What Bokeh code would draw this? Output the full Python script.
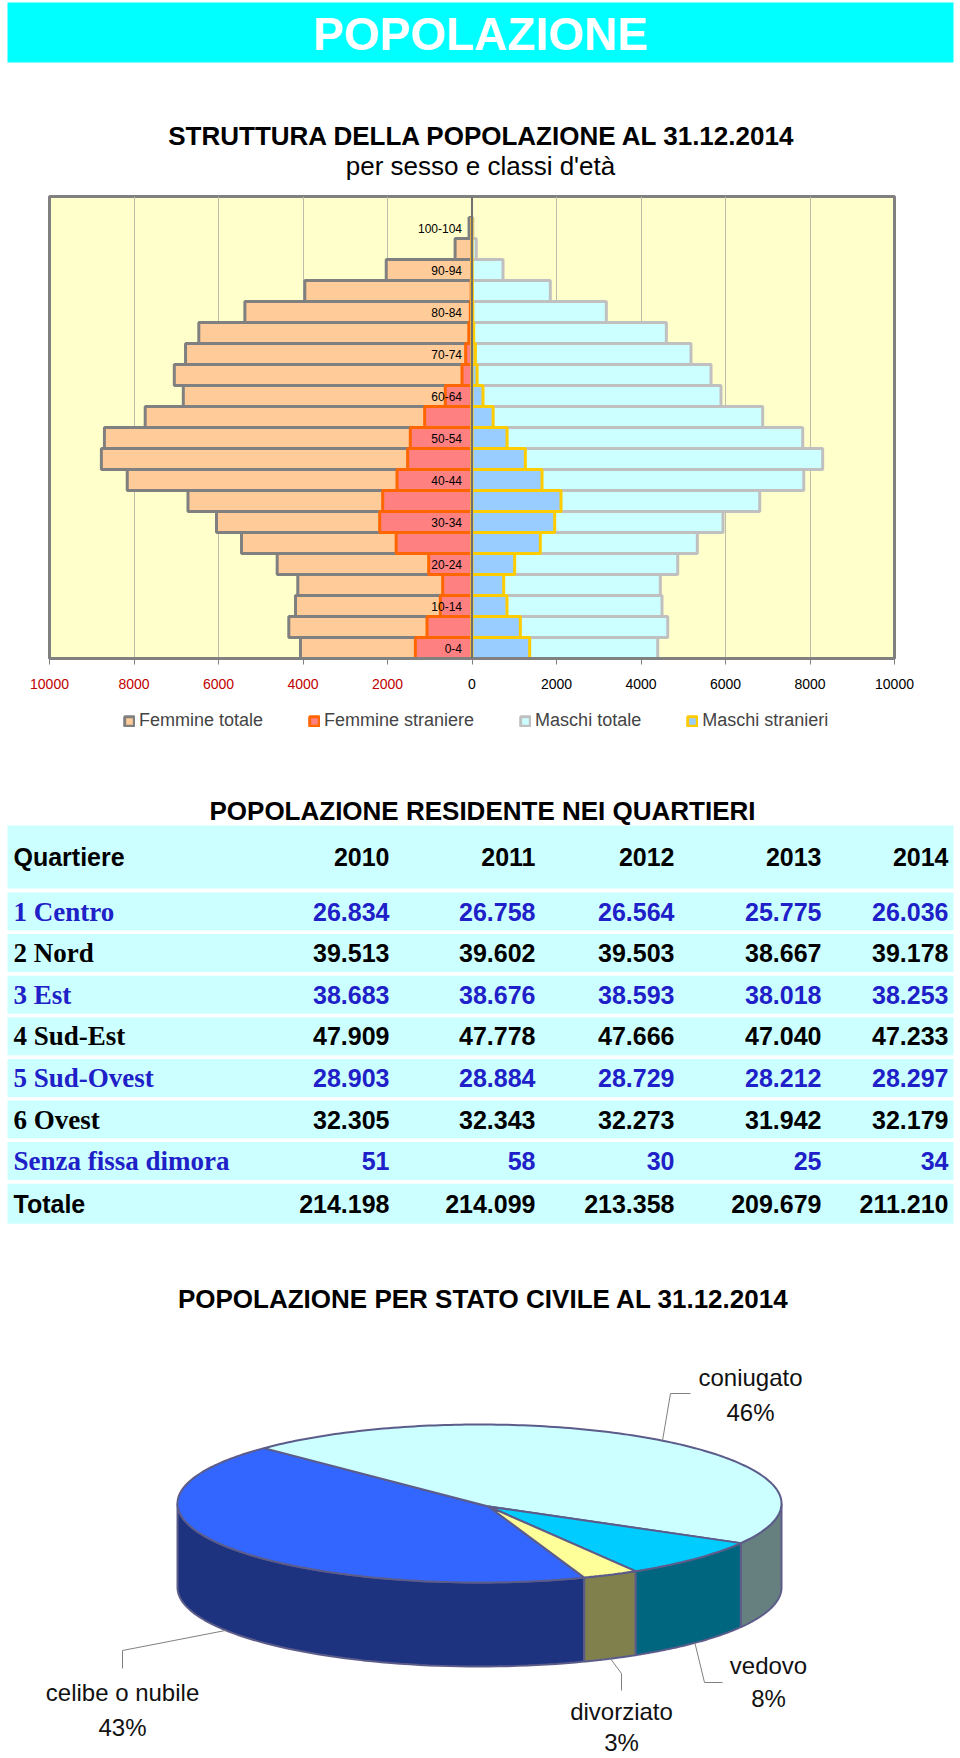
import numpy as np
from bokeh.plotting import figure
from bokeh.models import (ColumnDataSource, Range1d, FixedTicker, CustomJSTickFormatter,
                          Legend, LegendItem, Span)
from bokeh.layouts import column
from bokeh.embed import file_html
from bokeh.resources import INLINE
from bokeh.core.properties import value

SANS = "Liberation Sans"
SERIF = "Liberation Serif"

# ------------------------------------------------------------------ data
page_title = "POPOLAZIONE"
pyr_title = "STRUTTURA DELLA POPOLAZIONE AL 31.12.2014"
pyr_subtitle = "per sesso e classi d'età"

age_groups = ["0-4", "5-9", "10-14", "15-19", "20-24", "25-29", "30-34", "35-39",
              "40-44", "45-49", "50-54", "55-59", "60-64", "65-69", "70-74", "75-79",
              "80-84", "85-89", "90-94", "95-99", "100-104"]
femmine_totale = [4059, 4336, 4178, 4123, 4611, 5455, 6047, 6722, 8160, 8772, 8700,
                  7735, 6833, 7046, 6780, 6466, 5376, 3957, 2030, 400, 70]
femmine_straniere = [1341, 1065, 750, 694, 1025, 1795, 2185, 2114, 1775, 1523, 1460,
                     1120, 632, 237, 150, 75, 40, 20, 10, 5, 0]
maschi_totale = [4396, 4633, 4497, 4457, 4869, 5333, 5941, 6810, 7852, 8300, 7828,
                 6880, 5893, 5657, 5183, 4600, 3179, 1853, 734, 100, 20]
maschi_stranieri = [1365, 1144, 828, 750, 1010, 1617, 1957, 2107, 1657, 1262, 830,
                    500, 260, 120, 80, 40, 20, 10, 5, 0, 0]
series_names = ["Femmine totale", "Femmine straniere", "Maschi totale", "Maschi stranieri"]
x_ticks = [-10000, -8000, -6000, -4000, -2000, 0, 2000, 4000, 6000, 8000, 10000]
x_tick_labels = ["10000", "8000", "6000", "4000", "2000", "0", "2000", "4000", "6000",
                 "8000", "10000"]

table_title = "POPOLAZIONE RESIDENTE NEI QUARTIERI"
table_header = ["Quartiere", "2010", "2011", "2012", "2013", "2014"]
quartieri = ["1 Centro", "2 Nord", "3 Est", "4 Sud-Est", "5 Sud-Ovest", "6 Ovest",
             "Senza fissa dimora", "Totale"]
pop_2010 = [26834, 39513, 38683, 47909, 28903, 32305, 51, 214198]
pop_2011 = [26758, 39602, 38676, 47778, 28884, 32343, 58, 214099]
pop_2012 = [26564, 39503, 38593, 47666, 28729, 32273, 30, 213358]
pop_2013 = [25775, 38667, 38018, 47040, 28212, 31942, 25, 209679]
pop_2014 = [26036, 39178, 38253, 47233, 28297, 32179, 34, 211210]

pie_title = "POPOLAZIONE PER STATO CIVILE AL 31.12.2014"
stato_civile = ["celibe o nubile", "coniugato", "vedovo", "divorziato"]
stato_pct = [43, 46, 8, 3]

# series styles
fills = ["#FFCC99", "#FF8080", "#CCFFFF", "#99CCFF"]
lines = ["#808080", "#FF6600", "#C0C0C0", "#FFCC00"]


def page_fig(height, y0, y1):
    f = figure(width=960, height=height, x_range=Range1d(0, 960), y_range=Range1d(y1, y0),
               output_backend="svg", toolbar_location=None, min_border=0,
               x_axis_location=None, y_axis_location=None, outline_line_color=None,
               frame_align=False)
    f.grid.visible = False
    return f


# ------------------------------------------------------------------ header (page y 0..193)
h = page_fig(193, 0, 193)
h.quad(left=[7], right=[953], top=[2], bottom=[62], fill_color="#00FFFF", line_color=None)
h.text(x=[480], y=[33], text=[page_title], text_color="white", text_font=value(SANS),
       text_font_style="bold", text_font_size="46px", text_align="center",
       text_baseline="middle")
h.text(x=[482], y=[135], text=[pyr_title], text_color="black", text_font=value(SANS),
       text_font_style="bold", text_font_size="26px", text_align="center",
       text_baseline="middle")
h.text(x=[480], y=[165], text=[pyr_subtitle], text_color="black", text_font=value(SANS),
       text_font_size="26px", text_align="center", text_baseline="middle")

# ------------------------------------------------------------------ pyramid (193..666)
idx = list(range(len(age_groups)))
src = ColumnDataSource(dict(
    y=idx,
    ft=[-v for v in femmine_totale], fs=[-v for v in femmine_straniere],
    mt=maschi_totale, ms=maschi_stranieri,
))
XMIN, XMAX = -10000, 10000
FR_L, FR_R = 49, 66  # frame borders (px)

p = figure(width=960, height=473, x_range=Range1d(XMIN, XMAX),
           y_range=Range1d(-0.5, 21.5), output_backend="svg", toolbar_location=None,
           y_axis_location=None, min_border_left=FR_L, min_border_right=FR_R,
           min_border_top=3, min_border_bottom=8, frame_align=False)
p.background_fill_color = "#FFFFCC"
p.border_fill_color = "white"
p.outline_line_color = "#808080"
p.outline_line_width = 3
p.ygrid.visible = False
p.xgrid.ticker = FixedTicker(ticks=x_ticks)
p.xgrid.grid_line_color = "#BDBDAA"
p.xgrid.grid_line_width = 1


def add_bars(fig, visible=True):
    rs = []
    for col, fc, lc in zip(["ft", "fs"], fills[:2], lines[:2]):
        rs.append(fig.hbar(y="y", left=col, right=0, height=1, source=src, fill_color=fc,
                           line_color=lc, line_width=3, visible=visible))
    for col, fc, lc in zip(["mt", "ms"], fills[2:], lines[2:]):
        rs.append(fig.hbar(y="y", left=0, right=col, height=1, source=src, fill_color=fc,
                           line_color=lc, line_width=3, visible=visible))
    return rs


add_bars(p)
p.add_layout(Span(location=0, dimension="height", line_color="#707070", line_width=2))

lab_idx = [i for i in idx if i % 2 == 0]
p.text(x=[0] * len(lab_idx), y=lab_idx, text=[age_groups[i] for i in lab_idx],
       x_offset=-10, text_align="right", text_baseline="middle",
       text_font=value(SANS), text_font_size="12px", text_color="black")

xa = p.xaxis[0]
xa.ticker = FixedTicker(ticks=x_ticks)
xa.formatter = CustomJSTickFormatter(code="return '';")
xa.axis_line_color = "#808080"
xa.axis_line_width = 3
xa.major_tick_line_color = "#808080"
xa.major_tick_out = 6
xa.major_tick_in = 0
xa.minor_tick_line_color = None
xa.major_label_standoff = 0
xa.major_label_text_font_size = "1px"

# ------------------------------------------------------------------ tick labels + legend (666..760)
# same horizontal scale as the pyramid frame, but a frame that spans the whole width
ppx = (XMAX - XMIN) / (960 - FR_L - FR_R)
lf = figure(width=960, height=94, x_range=Range1d(XMIN - FR_L * ppx, XMAX + FR_R * ppx),
            y_range=Range1d(760, 666), output_backend="svg", toolbar_location=None,
            min_border=0, x_axis_location=None, y_axis_location=None,
            outline_line_color=None, frame_align=False)
lf.grid.visible = False
tick_colors = ["#C00000" if v < 0 else "black" for v in x_ticks]
lf.text(x=x_ticks, y=[683] * len(x_ticks), text=x_tick_labels, text_color=tick_colors,
        text_font=value(SANS), text_font_size="14px", text_align="center",
        text_baseline="middle")

proxies = add_bars(lf, visible=False)
legend = Legend(items=[LegendItem(label=n, renderers=[r]) for n, r in zip(series_names, proxies)],
                orientation="horizontal", location=(123, 29),
                label_text_font=SANS, label_text_font_size="18px",
                glyph_width=12, glyph_height=12, label_standoff=4, spacing=45,
                border_line_color=None, background_fill_alpha=0,
                margin=0, padding=0)
lf.add_layout(legend)

# ------------------------------------------------------------------ table (760..1240)
t = page_fig(480, 760, 1240)
t.text(x=[482], y=[810], text=[table_title], text_font=value(SANS),
       text_font_style="bold", text_font_size="26px", text_align="center",
       text_baseline="middle", text_color="black")

TBL_L, TBL_R = 7, 953
HEAD_TOP, HEAD_BOT = 825, 888
ROW0, PITCH, ROWH = 892, 41.6, 38
col_right = [389, 535, 674, 821, 948]

t.quad(left=[TBL_L], right=[TBL_R], top=[HEAD_TOP], bottom=[HEAD_BOT],
       fill_color="#CCFFFF", line_color=None)
nrows = len(quartieri)
row_top = [ROW0 + PITCH * i for i in range(nrows)]
row_bot = [rt + ROWH + (2 if i == nrows - 1 else 0) for i, rt in enumerate(row_top)]
row_mid = [(a + b) / 2 for a, b in zip(row_top, row_bot)]
t.quad(left=[TBL_L] * nrows, right=[TBL_R] * nrows, top=row_top, bottom=row_bot,
       fill_color="#CCFFFF", line_color=None)

head_mid = (HEAD_TOP + HEAD_BOT) / 2
t.text(x=[13], y=[head_mid], text=[table_header[0]], text_font=value(SANS),
       text_font_style="bold", text_font_size="25px", text_align="left",
       text_baseline="middle", text_color="black")
t.text(x=col_right, y=[head_mid] * 5, text=table_header[1:], text_font=value(SANS),
       text_font_style="bold", text_font_size="25px", text_align="right",
       text_baseline="middle", text_color="black")

BLUE = "#2020C8"
row_colors = [BLUE if i % 2 == 0 else "black" for i in range(nrows)]
row_colors[-1] = "black"
t.text(x=[13] * (nrows - 1), y=row_mid[:-1], text=quartieri[:-1],
       text_font=value(SERIF), text_font_style="bold", text_font_size="27px",
       text_align="left", text_baseline="middle", text_color=row_colors[:-1])
t.text(x=[13], y=[row_mid[-1]], text=[quartieri[-1]], text_font=value(SANS),
       text_font_style="bold", text_font_size="25px", text_align="left",
       text_baseline="middle", text_color="black")


def fmt(v):
    return f"{v:,}".replace(",", ".")


for ci, col in enumerate([pop_2010, pop_2011, pop_2012, pop_2013, pop_2014]):
    t.text(x=[col_right[ci]] * nrows, y=row_mid, text=[fmt(v) for v in col],
           text_font=value(SANS), text_font_style="bold", text_font_size="25px",
           text_align="right", text_baseline="middle", text_color=row_colors)

# ------------------------------------------------------------------ pie (1240..1758)
q = page_fig(518, 1240, 1758)
q.text(x=[483], y=[1298], text=[pie_title], text_font=value(SANS),
       text_font_style="bold", text_font_size="26px", text_align="center",
       text_baseline="middle", text_color="black")

cx, cy, rx, ry, depth = 479, 1503, 302, 79, 84
hub_dx, hub_dy = 9, 3  # perspective shift of the pie hub
start_deg = -69.7
top_colors = {"celibe o nubile": "#3366FF", "coniugato": "#CCFFFF",
              "vedovo": "#00CCFF", "divorziato": "#FFFF99"}
side_colors = {"celibe o nubile": "#1E337F", "coniugato": "#668080",
               "vedovo": "#006680", "divorziato": "#80804D"}
OUT = "#5C5C8A"

total = float(sum(stato_pct))
angles = []
a = start_deg
for v in stato_pct:
    span = v / total * 360.0
    angles.append((a - span, a))  # clockwise: from a down to a-span
    a -= span

side_xs, side_ys, side_c = [], [], []
for name, (lo, hi) in zip(stato_civile, angles):
    for f_lo, f_hi in [(-180, 0), (180, 360), (-540, -360)]:
        s_lo, s_hi = max(lo, f_lo), min(hi, f_hi)
        if s_hi > s_lo:
            ts = np.radians(np.linspace(s_lo, s_hi, 60))
            xt = cx + rx * np.cos(ts)
            yt = cy - ry * np.sin(ts)
            side_xs.append(list(xt) + list(xt[::-1]))
            side_ys.append(list(yt) + list((yt + depth)[::-1]))
            side_c.append(side_colors[name])
q.patches(xs=side_xs, ys=side_ys, fill_color=side_c, line_color=OUT, line_width=2)

top_xs, top_ys, top_c = [], [], []
for name, (lo, hi) in zip(stato_civile, angles):
    n = max(int(hi - lo) + 2, 4)
    ts = np.radians(np.linspace(hi, lo, n))
    top_xs.append([cx + hub_dx] + list(cx + rx * np.cos(ts)))
    top_ys.append([cy + hub_dy] + list(cy - ry * np.sin(ts)))
    top_c.append(top_colors[name])
q.patches(xs=top_xs, ys=top_ys, fill_color=top_c, line_color=OUT, line_width=2)

# labels & leader lines (positions are layout)
label_pos = {"celibe o nubile": (122, 1692, 1727), "coniugato": (750, 1377, 1412),
             "vedovo": (768, 1665, 1698), "divorziato": (621, 1711, 1742)}
leader_elbow = {"celibe o nubile": [(122, 1650), (122, 1668)],
                "coniugato": [(670, 1393), (690, 1393)],
                "vedovo": [(704, 1682), (722, 1682)],
                "divorziato": [(621, 1673), (621, 1690)]}
lx, ly = [], []
for name, (lo, hi) in zip(stato_civile, angles):
    mid = np.radians((lo + hi) / 2)
    sx = cx + rx * np.cos(mid)
    sy = cy - ry * np.sin(mid) + (depth if np.sin(mid) < 0 else 0)
    pts = [(sx, sy)] + leader_elbow[name]
    lx.append([pp[0] for pp in pts])
    ly.append([pp[1] for pp in pts])
q.multi_line(xs=lx, ys=ly, line_color="#808080", line_width=1)

for name, v in zip(stato_civile, stato_pct):
    x0, y1, y2 = label_pos[name]
    q.text(x=[x0, x0], y=[y1, y2], text=[name, f"{v / total * 100:.0f}%"],
           text_font=value(SANS), text_font_size="24px", text_align="center",
           text_baseline="middle", text_color="#111111")

layout = column(h, p, lf, t, q, spacing=0)
open("out.html", "w").write(file_html(layout, INLINE))
